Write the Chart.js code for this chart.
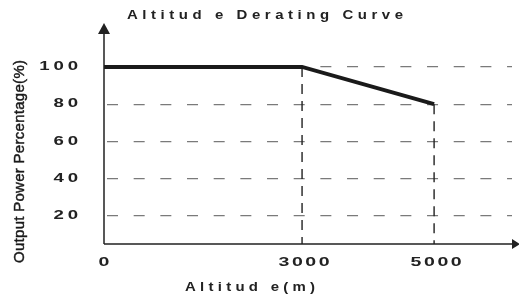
<!DOCTYPE html>
<html>
<head>
<meta charset="utf-8">
<script src="https://cdn.jsdelivr.net/npm/chart.js@4/dist/chart.umd.min.js"></script>
<style>
html,body{margin:0;padding:0;background:#fff;}
#wrap{width:519px;height:300px;position:relative;}
</style>
</head>
<body>
<div id="wrap"><canvas id="c" width="519" height="300"></canvas></div>
<script>
// ---- data ----
const altitude = [0, 3000, 5000];          // m
const powerPct = [100, 100, 80];            // %
const xTickValues = [0, 3000, 5000];
const yTickValues = [20, 40, 60, 80, 100];
const chartTitle = 'Altitud e Derating Curve';
const xAxisTitle = 'Altitud e(m)';
const yAxisTitle = 'Output Power Percentage(%)';

const curve = altitude.map((x, i) => ({x, y: powerPct[i]}));
const Y_MIN = 5, Y_MAX = 123, X_MIN = 0, X_MAX = 6180;
// drop lines from the knee points down to the axis
const drops = altitude.slice(1).map((x, i) => [{x, y: powerPct[i + 1]}, {x, y: Y_MIN}]);

const FONT = '"Liberation Sans", Arial, sans-serif';

// draw text horizontally stretched by sx, with extra letter spacing
function drawStretched(ctx, text, x, y, font, sx, spacing, align) {
  ctx.save();
  ctx.font = font;
  ctx.letterSpacing = '0px';
  const n = text.length;
  const w = ctx.measureText(text).width * sx + spacing * (n - 1);
  let left = x;
  if (align === 'center') left = x - w / 2;
  else if (align === 'right') left = x - w;
  ctx.translate(left, y);
  ctx.scale(sx, 1);
  ctx.letterSpacing = (spacing / sx) + 'px';
  ctx.textAlign = 'left';
  ctx.textBaseline = 'middle';
  ctx.fillText(text, 0, 0);
  ctx.restore();
}
// fit text into [x0, x1] by letter spacing
function drawFitted(ctx, text, x0, x1, y, font, sx) {
  ctx.save();
  ctx.font = font;
  ctx.letterSpacing = '0px';
  const w = ctx.measureText(text).width * sx;
  ctx.restore();
  const spacing = (x1 - x0 - w) / (text.length - 1);
  drawStretched(ctx, text, x0, y, font, sx, spacing, 'left');
}

const styling = {
  id: 'styling',
  afterDraw(chart) {
    const ctx = chart.ctx;
    const {left, right, top, bottom} = chart.chartArea;
    const xs = chart.scales.x, ys = chart.scales.y;
    ctx.save();
    ctx.letterSpacing = '0px';
    // axes
    ctx.strokeStyle = '#222';
    ctx.fillStyle = '#222';
    ctx.lineWidth = 1.5;
    ctx.beginPath();
    ctx.moveTo(left, bottom);
    ctx.lineTo(left, top + 8);
    ctx.moveTo(left, bottom);
    ctx.lineTo(right + 2, bottom);
    ctx.stroke();
    // arrows
    ctx.beginPath();
    ctx.moveTo(left, top - 1);
    ctx.lineTo(left - 6, top + 10);
    ctx.lineTo(left + 6, top + 10);
    ctx.closePath();
    ctx.fill();
    ctx.beginPath();
    ctx.moveTo(right + 8, bottom);
    ctx.lineTo(right, bottom - 5);
    ctx.lineTo(right, bottom + 5);
    ctx.closePath();
    ctx.fill();

    ctx.fillStyle = '#222';
    // tick labels
    yTickValues.forEach(v => {
      drawStretched(ctx, String(v), 78, ys.getPixelForValue(v), 'bold 12px ' + FONT, 1.55, 3.8, 'right');
    });
    xTickValues.forEach(v => {
      drawStretched(ctx, String(v), xs.getPixelForValue(v) + (v ? 2 : 0), 262, 'bold 13px ' + FONT, 1.5, 2.6, 'center');
    });
    // title
    drawFitted(ctx, chartTitle, 127, 403, 15, 'bold 13px ' + FONT, 1.15);
    // x axis title
    drawFitted(ctx, xAxisTitle, 185, 315, 287, 'bold 13px ' + FONT, 1.15);
    // y axis title (rotated)
    ctx.save();
    ctx.translate(19.5, 0);
    ctx.rotate(-Math.PI / 2);
    ctx.font = '15px ' + FONT;
    const tw = ctx.measureText(yAxisTitle).width;
    const sp = (203 - tw) / (yAxisTitle.length - 1);
    ctx.letterSpacing = sp + 'px';
    ctx.textAlign = 'left';
    ctx.textBaseline = 'middle';
    ctx.fillStyle = '#1a1a1a';
    ctx.strokeStyle = '#1a1a1a';
    ctx.lineWidth = 0.45;
    ctx.fillText(yAxisTitle, -263, 0);
    ctx.strokeText(yAxisTitle, -263, 0);
    ctx.restore();
    ctx.restore();
  }
};

new Chart(document.getElementById('c'), {
  type: 'scatter',
  data: {
    datasets: [
      ...drops.map(d => ({
        data: d,
        showLine: true,
        borderColor: '#222',
        borderWidth: 1.4,
        borderDash: [10, 7],
        pointRadius: 0,
        order: 2
      })),
      {
        data: curve,
        showLine: true,
        borderColor: '#1a1a1a',
        borderWidth: 4,
        borderCapStyle: 'butt',
        pointRadius: 0,
        tension: 0,
        order: 1
      }
    ]
  },
  options: {
    responsive: false,
    animation: false,
    devicePixelRatio: 1,
    layout: {padding: {top: 24, right: 7, left: 0, bottom: 0}},
    plugins: {legend: {display: false}, title: {display: false}, tooltip: {enabled: false}},
    scales: {
      x: {
        type: 'linear',
        min: X_MIN, max: X_MAX,
        afterBuildTicks: s => { s.ticks = xTickValues.map(v => ({value: v})); },
        afterFit: s => { s.height = 56; s.paddingLeft = 0; s.paddingRight = 0; },
        grid: {display: false, drawTicks: false},
        border: {display: false},
        ticks: {display: false}
      },
      y: {
        type: 'linear',
        min: Y_MIN, max: Y_MAX,
        afterBuildTicks: s => { s.ticks = yTickValues.map(v => ({value: v})); },
        afterFit: s => { s.width = 104; s.paddingTop = 0; s.paddingBottom = 0; },
        grid: {color: '#7a7a7a', lineWidth: 1.3, drawTicks: false},
        border: {display: false, dash: [11, 15.67], dashOffset: -3},
        ticks: {display: false}
      }
    }
  },
  plugins: [styling]
});
</script>
</body>
</html>
